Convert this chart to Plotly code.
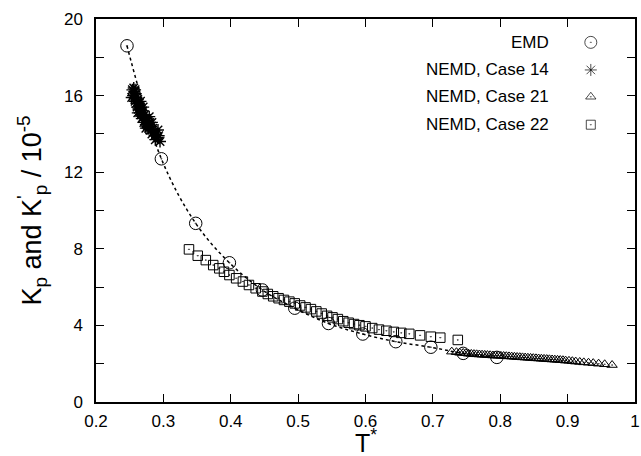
import plotly.graph_objects as go

# ---- data ----
emd_T = [0.246, 0.297, 0.348, 0.398, 0.447, 0.495, 0.545, 0.596, 0.645, 0.697, 0.745, 0.795]
emd_K = [18.6, 12.7, 9.33, 7.27, 5.85, 4.90, 4.10, 3.55, 3.15, 2.86, 2.54, 2.33]

c14_T = [0.254, 0.255, 0.256, 0.257, 0.257, 0.258, 0.259, 0.260, 0.260, 0.261,
         0.262, 0.263, 0.263, 0.264, 0.265, 0.266, 0.267, 0.267, 0.268, 0.269,
         0.270, 0.271, 0.272, 0.273, 0.274, 0.275, 0.276, 0.277, 0.278, 0.279,
         0.280, 0.281, 0.282, 0.283, 0.284, 0.286, 0.287, 0.289, 0.291, 0.293, 0.295,
         0.253, 0.258, 0.262, 0.266, 0.270, 0.274, 0.279, 0.283, 0.288, 0.292]
c14_K = [16.3, 16.0, 16.4, 15.9, 16.2, 15.7, 16.1, 15.6, 15.9, 15.4,
         15.8, 15.3, 15.6, 15.5, 15.1, 15.4, 15.0, 15.3, 14.8, 15.2,
         14.9, 14.6, 15.0, 14.7, 14.5, 14.8, 14.4, 14.7, 14.3, 14.5,
         14.6, 14.2, 14.4, 14.0, 14.3, 14.1, 13.9, 14.0, 13.8, 13.9, 13.6,
         15.9, 16.3, 15.1, 15.7, 15.4, 14.3, 14.9, 14.6, 13.7, 14.2]

c21_T = [0.728, 0.735, 0.740, 0.745, 0.749, 0.753, 0.757, 0.761, 0.765, 0.769,
         0.773, 0.777, 0.781, 0.785, 0.789, 0.793, 0.797, 0.801, 0.805, 0.809,
         0.813, 0.817, 0.821, 0.825, 0.829, 0.833, 0.837, 0.841, 0.845, 0.849,
         0.853, 0.857, 0.861, 0.865, 0.869, 0.873, 0.877, 0.881, 0.885, 0.889,
         0.893, 0.897, 0.902, 0.907, 0.912, 0.918, 0.924, 0.931, 0.938, 0.946,
         0.955, 0.966]
c21_K = [2.63, 2.60, 2.57, 2.56, 2.55, 2.52, 2.51, 2.50, 2.49, 2.48,
         2.47, 2.46, 2.45, 2.44, 2.43, 2.42, 2.42, 2.41, 2.40, 2.39,
         2.38, 2.37, 2.36, 2.35, 2.34, 2.33, 2.32, 2.31, 2.30, 2.29,
         2.28, 2.27, 2.26, 2.25, 2.24, 2.23, 2.22, 2.21, 2.20, 2.19,
         2.18, 2.16, 2.15, 2.13, 2.11, 2.09, 2.07, 2.05, 2.03, 2.00,
         1.97, 1.93]

c22_T = [0.338, 0.351, 0.363, 0.374, 0.383, 0.390, 0.398, 0.408, 0.418, 0.427,
         0.437, 0.447, 0.455, 0.463, 0.471, 0.479, 0.487, 0.495, 0.503, 0.511,
         0.519, 0.527, 0.535, 0.543, 0.551, 0.559, 0.567, 0.575, 0.583, 0.591,
         0.600, 0.610, 0.620, 0.631, 0.642, 0.653, 0.665, 0.681, 0.697, 0.711, 0.737]
c22_K = [7.97, 7.64, 7.41, 7.15, 6.98, 6.80, 6.63, 6.46, 6.29, 6.11,
         5.94, 5.77, 5.64, 5.52, 5.42, 5.33, 5.24, 5.15, 5.04, 4.94,
         4.85, 4.73, 4.62, 4.50, 4.42, 4.33, 4.22, 4.14, 4.07, 4.01,
         3.95, 3.86, 3.78, 3.72, 3.66, 3.61, 3.56, 3.48, 3.41, 3.36, 3.24]

legend_names = ["EMD", "NEMD, Case 14", "NEMD, Case 21", "NEMD, Case 22"]
legend_symbols = ["circle-open-dot", "asterisk-open", "triangle-up-open-dot", "square-open-dot"]
legend_sizes = [12, 10, 9, 9]

FONT = "Liberation Sans, Arial, Helvetica, sans-serif"

fig = go.Figure()

fig.add_trace(go.Scatter(x=emd_T, y=emd_K, mode="lines",
                         line=dict(color="black", width=1.5, dash="dot", shape="spline"),
                         showlegend=False, hoverinfo="skip"))
fig.add_trace(go.Scatter(x=c22_T, y=c22_K, mode="markers", name=legend_names[3],
                         marker=dict(symbol="square-open-dot", size=9.5, color="black",
                                     line=dict(color="black", width=1))))
fig.add_trace(go.Scatter(x=c21_T, y=c21_K, mode="markers", name=legend_names[2],
                         marker=dict(symbol="triangle-up-open-dot", size=9, color="black",
                                     line=dict(color="black", width=1))))
fig.add_trace(go.Scatter(x=c14_T, y=c14_K, mode="markers", name=legend_names[1],
                         marker=dict(symbol="asterisk-open", size=10, color="black",
                                     line=dict(color="black", width=1.4))))
fig.add_trace(go.Scatter(x=emd_T, y=emd_K, mode="markers", name=legend_names[0],
                         marker=dict(symbol="circle-open-dot", size=12.5, color="black",
                                     line=dict(color="black", width=1))))

# custom legend (text right, symbol on the right), in a hidden overlay axis
leg_y = [0.939, 0.867, 0.797, 0.724]
fig.add_trace(go.Scatter(x=[0.918] * 4, y=leg_y, mode="markers", xaxis="x2", yaxis="y2",
                         marker=dict(symbol=legend_symbols, size=legend_sizes, color="black",
                                     line=dict(color="black", width=1)),
                         showlegend=False, hoverinfo="skip"))
for name, yy in zip(legend_names, leg_y):
    fig.add_annotation(x=0.845, y=yy, xref="x2", yref="y2", text=name, showarrow=False,
                       xanchor="right", yanchor="middle",
                       font=dict(family=FONT, size=17, color="black"))

# x-axis title as annotation so the plot area keeps its size
fig.add_annotation(x=0.5, y=-0.148, xref="paper", yref="paper", text="T<sup>*</sup>",
                   showarrow=False, xanchor="center", yanchor="bottom",
                   font=dict(family=FONT, size=25, color="black"))

axis_common = dict(showline=True, linecolor="black", linewidth=1.5, mirror="ticks",
                   ticks="inside", ticklen=8, tickwidth=1.2, tickcolor="black",
                   showgrid=False, zeroline=False,
                   tickfont=dict(family=FONT, size=17, color="black"))

fig.update_layout(
    width=641, height=456,
    margin=dict(l=96, r=4, t=19, b=54),
    paper_bgcolor="white", plot_bgcolor="white",
    showlegend=False,
    font=dict(family=FONT, color="black"),
    xaxis=dict(range=[0.2, 1.0], dtick=0.1, tick0=0.2, ticklabelstandoff=3,
               automargin=False, **axis_common),
    yaxis=dict(range=[0, 20], dtick=4, tick0=0, ticklabelstandoff=8,
               minor=dict(dtick=2, ticks="inside", ticklen=8, tickcolor="black", tickwidth=1.2),
               title=dict(text="K<sub>p</sub> and K<sup>'</sup><sub>p</sub> / 10<sup>-5</sup>",
                          font=dict(family=FONT, size=27), standoff=14),
               **axis_common),
    xaxis2=dict(range=[0, 1], overlaying="x", visible=False, domain=[0, 1]),
    yaxis2=dict(range=[0, 1], overlaying="y", visible=False),
)

fig.write_html("out.html")
